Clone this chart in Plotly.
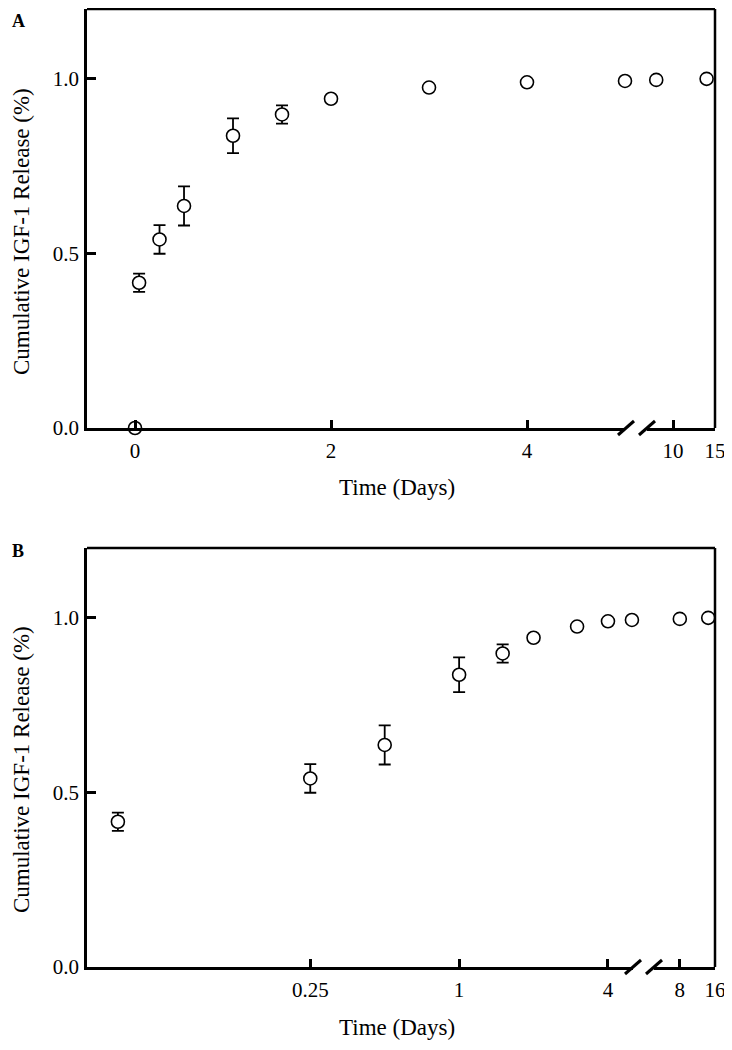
import math
import plotly.graph_objects as go

# ---------------- data ----------------
days = [0, 1/24, 0.25, 0.5, 1, 1.5, 2, 3, 4, 5, 8, 14]
release = [0.0, 0.416, 0.540, 0.636, 0.837, 0.898, 0.943, 0.975, 0.990, 0.994, 0.997, 1.000]
release_err = [0.0, 0.026, 0.041, 0.056, 0.050, 0.026, 0.0, 0.0, 0.0, 0.0, 0.0, 0.0]

a_ticks1 = [0, 2, 4]
a_ticks2 = [10, 15]
b_ticks1 = [0.25, 1, 4]
b_ticks1_text = ["0.25", "1", "4"]
b_ticks2 = [8, 16]
y_ticks = [0.0, 0.5, 1.0]
y_ticks_text = ["0.0", "0.5", "1.0"]
break_day = 6  # axis break between 5 and 8 days

# ---------------- layout geometry ----------------
# the page body has an 8px margin on every side
OFF = 8
W, H = 732 - 2 * OFF, 1050 - 2 * OFF
L, R, T, B = 79, 9, 1, 75
PW, PH = W - L - R, H - T - B


def px(x_page):
    return (x_page - OFF - L) / PW


def py(y_page):
    return (H - B - (y_page - OFF)) / PH


FONT = "Liberation Serif"
LW = 2.5

fig = go.Figure()

marker = dict(symbol="circle", size=13, color="white", line=dict(color="black", width=1.6))
err_style = dict(type="data", visible=True, color="black", thickness=1.8, width=6)

segA1 = [i for i, d in enumerate(days) if d < break_day]
segA2 = [i for i, d in enumerate(days) if d > break_day]
segB1 = [i for i, d in enumerate(days) if 0 < d < break_day]
segB2 = segA2


def add(idx, xa, ya):
    fig.add_trace(go.Scatter(
        x=[days[i] for i in idx], y=[release[i] for i in idx],
        mode="markers", marker=marker, cliponaxis=False,
        error_y=dict(array=[release_err[i] for i in idx], **err_style),
        xaxis=xa, yaxis=ya, showlegend=False))


add(segA1, "x", "y")
add(segA2, "x2", "y")
add(segB1, "x3", "y2")
add(segB2, "x4", "y2")

yA = [py(428), 1.0]
yB = [0.0, py(548)]
dA1 = [0.0, px(625)]
dA2 = [px(647), 1.0]
dB1 = [0.0, px(633)]
dB2 = [px(654), 1.0]

common_x = dict(showline=True, linecolor="black", linewidth=LW, ticks="inside",
                ticklen=8, tickwidth=LW, tickcolor="black", showgrid=False, zeroline=False,
                ticklabelstandoff=2, automargin=False, ticklabeloverflow="allow",
                tickfont=dict(family=FONT, size=21, color="black"))
common_y = dict(showline=True, linecolor="black", linewidth=LW, ticks="inside",
                ticklen=9, tickwidth=LW, tickcolor="black", showgrid=False, zeroline=False,
                range=[0, 1.2], tickvals=y_ticks, ticktext=y_ticks_text,
                ticklabelstandoff=1, automargin=False, ticklabeloverflow="allow",
                tickfont=dict(family=FONT, size=21, color="black"))

fig.update_layout(
    width=W, height=H, autosize=False,
    margin=dict(l=L, r=R, t=T, b=B, pad=0),
    paper_bgcolor="white", plot_bgcolor="white",
    xaxis=dict(domain=dA1, anchor="y", range=[-0.49, 5.0], tickvals=a_ticks1, **common_x),
    xaxis2=dict(domain=dA2, anchor="y", range=[6.9, 15.0], tickvals=a_ticks2, **common_x),
    yaxis=dict(domain=yA, anchor="x", **common_y),
    xaxis3=dict(domain=dB1, anchor="y2", type="log",
                range=[math.log10(1/32), math.log10(5.05)],
                tickvals=b_ticks1, ticktext=b_ticks1_text, **common_x),
    xaxis4=dict(domain=dB2, anchor="y2", type="log",
                range=[math.log10(4.81), math.log10(16)],
                tickvals=b_ticks2, ticktext=[str(t) for t in b_ticks2], **common_x),
    yaxis2=dict(domain=yB, anchor="x3", **common_y),
)

shapes = []
for (y0, y1) in (yA, yB):
    shapes.append(dict(type="line", xref="paper", yref="paper", x0=0, x1=1, y0=y1, y1=y1,
                       line=dict(color="black", width=LW)))
    shapes.append(dict(type="line", xref="paper", yref="paper", x0=1, x1=1, y0=y0, y1=y1,
                       line=dict(color="black", width=LW)))
for (yax, cx1, cx2) in ((428, 626, 647), (967, 633, 654)):
    for cx in (cx1, cx2):
        shapes.append(dict(type="line", xref="paper", yref="paper",
                           x0=px(cx - 8), x1=px(cx + 8), y0=py(yax + 7), y1=py(yax - 7),
                           line=dict(color="black", width=3)))
fig.update_layout(shapes=shapes)

ann = []
tfont = dict(family=FONT, size=23, color="black")
common_ann = dict(xref="paper", yref="paper", showarrow=False, xanchor="center", yanchor="middle")
ann.append(dict(text="<b>A</b>", x=px(18), y=py(21),
                font=dict(family=FONT, size=18, color="black"), **common_ann))
ann.append(dict(text="<b>B</b>", x=px(18), y=py(551),
                font=dict(family=FONT, size=18, color="black"), **common_ann))
for yc in (232, 770):
    ann.append(dict(text="Cumulative IGF-1 Release (%)", textangle=-90, x=px(21), y=py(yc),
                    font=tfont, **common_ann))
for yc in (487, 1028):
    ann.append(dict(text="Time (Days)", x=px(397), y=py(yc), font=tfont, **common_ann))
fig.update_layout(annotations=ann)

fig.write_html("out.html")
